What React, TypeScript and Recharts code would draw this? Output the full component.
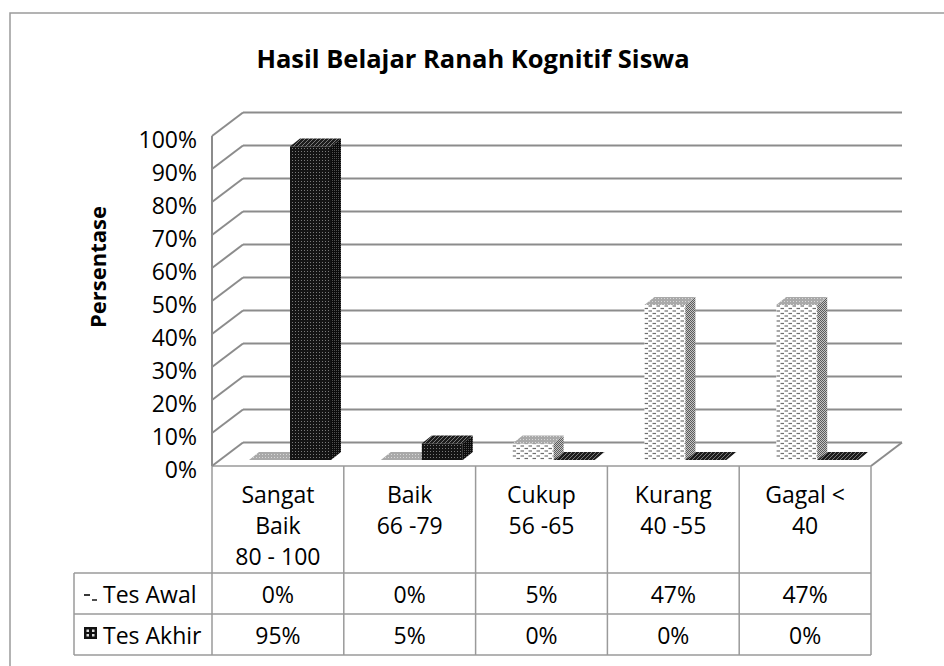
import React from "react";
import { BarChart, Bar, XAxis, YAxis, CartesianGrid } from "recharts";

// categories (table header lines) and the two series, in percent
const categoryLines = [
    ["Sangat", "Baik", "80 - 100"],
    ["Baik", "66 -79"],
    ["Cukup", "56 -65"],
    ["Kurang", "40 -55"],
    ["Gagal <", "40"],
];
const tesAwal = [0, 0, 5, 47, 47];
const tesAkhir = [95, 5, 0, 0, 0];
const yTicks = [0, 10, 20, 30, 40, 50, 60, 70, 80, 90, 100];
const seriesNames = ["Tes Awal", "Tes Akhir"];

const W = 944;
const H = 666;
const FONT = "'Open Sans', 'Noto Sans', sans-serif";
const FS = 23;

// bar plane = recharts plot area; walls are offset from it to fake the 3D box
const PLOT = { left: 224, top: 130, width: 659, height: 330 };
const FRONT = { dx: -12, dy: 6 };
const BACK = { dx: 19, dy: -17.5 };
const DEPTH = { dx: 10, dy: -8 };
const Y_AXIS_W = 40;

const GRID = "#8c8c8c";
const LINE = "#9a9a9a";

const data = categoryLines.map((lines, i) => ({
    name: lines.join(" "),
    awal: tesAwal[i],
    akhir: tesAkhir[i],
}));

function Box3D({ x, y, width, height, front, side, top }: any) {
    const h = Math.max(0, height || 0);
    const d = DEPTH;
    return (
        <g>
            {h > 0 && <rect x={x} y={y} width={width} height={h} fill={front} />}
            {h > 0 && (
                <polygon
                    points={`${x + width},${y} ${x + width + d.dx},${y + d.dy} ${x + width + d.dx},${y + h + d.dy} ${x + width},${y + h}`}
                    fill={side}
                />
            )}
            <polygon
                points={`${x},${y} ${x + d.dx},${y + d.dy} ${x + width + d.dx},${y + d.dy} ${x + width},${y}`}
                fill={top}
            />
        </g>
    );
}

const renderGridLine = (props: any) => {
    const { x1, x2, y1, index } = props;
    return (
        <g key={`grid-${index}-${y1}`}>
            <line
                x1={x1 + FRONT.dx}
                y1={y1 + FRONT.dy}
                x2={x1 + BACK.dx}
                y2={y1 + BACK.dy}
                stroke={GRID}
                strokeWidth={2}
            />
            <line
                x1={x1 + BACK.dx}
                y1={y1 + BACK.dy}
                x2={x2 + BACK.dx}
                y2={y1 + BACK.dy}
                stroke={GRID}
                strokeWidth={2}
            />
        </g>
    );
};

const renderTick = ({ y, payload }: any) => (
    <text
        x={197}
        y={y + FRONT.dy + 2.5}
        textAnchor="end"
        dominantBaseline="central"
        fontFamily={FONT}
        fontSize={FS}
        fill="#000"
    >
        {`${payload.value}%`}
    </text>
);

function Background() {
    const fx0 = PLOT.left + FRONT.dx;
    const fx1 = PLOT.left + PLOT.width + FRONT.dx;
    const fBase = PLOT.top + PLOT.height + FRONT.dy;
    const fTop = PLOT.top + FRONT.dy;
    const bBase = PLOT.top + PLOT.height + BACK.dy;
    const bx1 = PLOT.left + PLOT.width + BACK.dx;
    const colW = PLOT.width / categoryLines.length;
    const rowTop = 573;
    const rowH = 41;
    const tableBottom = rowTop + rowH * 2;
    const headX = 74;
    const values = [tesAwal, tesAkhir];

    return (
        <svg width={W} height={H} style={{ position: "absolute", left: 0, top: 0 }}>
            <defs>
                <pattern id="awalFront" width="8" height="5" patternUnits="userSpaceOnUse">
                    <rect width="8" height="5" fill="#fff" />
                    <line x1="0.5" y1="1" x2="4" y2="1" stroke="#6e6e6e" strokeWidth="1.2" />
                    <line x1="4.5" y1="3.5" x2="8" y2="3.5" stroke="#6e6e6e" strokeWidth="1.2" />
                </pattern>
                <pattern id="awalSide" width="2" height="2" patternUnits="userSpaceOnUse">
                    <rect width="2" height="2" fill="#c4c4c4" />
                    <rect width="1" height="1" fill="#5c5c5c" />
                    <rect x="1" y="1" width="1" height="1" fill="#5c5c5c" />
                </pattern>
                <pattern id="awalTop" width="3" height="3" patternUnits="userSpaceOnUse">
                    <rect width="3" height="3" fill="#a9a9a9" />
                    <rect x="1" y="1" width="1" height="1" fill="#d8d8d8" />
                </pattern>
                <pattern id="akhirFront" width="3" height="3" patternUnits="userSpaceOnUse">
                    <rect width="3" height="3" fill="#141414" />
                    <rect x="1" y="1" width="1" height="1" fill="#7a7a7a" />
                </pattern>
                <pattern id="akhirSide" width="2" height="2" patternUnits="userSpaceOnUse">
                    <rect width="2" height="2" fill="#0c0c0c" />
                    <rect width="1" height="1" fill="#505050" />
                </pattern>
                <pattern id="akhirTop" width="4" height="4" patternUnits="userSpaceOnUse">
                    <rect width="4" height="4" fill="#1c1c1c" />
                    <line x1="0" y1="4" x2="4" y2="0" stroke="#7a7a7a" strokeWidth="1" />
                </pattern>
            </defs>

            <rect x={10} y={13} width={W + 20} height={H + 20} fill="#fff" stroke={LINE} strokeWidth={1.5} />

            <text
                x={473}
                y={58}
                textAnchor="middle"
                dominantBaseline="central"
                fontFamily={FONT}
                fontWeight="bold"
                fontSize={25.5}
            >
                Hasil Belajar Ranah Kognitif Siswa
            </text>

            <text
                transform={`translate(97, 267) rotate(-90)`}
                textAnchor="middle"
                dominantBaseline="central"
                fontFamily={FONT}
                fontWeight="bold"
                fontSize={22}
            >
                Persentase
            </text>

            {/* left wall front edge and floor */}
            <line x1={fx0} y1={fTop} x2={fx0} y2={fBase} stroke={GRID} strokeWidth={2} />
            <line x1={fx1} y1={fBase} x2={bx1} y2={bBase} stroke={GRID} strokeWidth={2} />

            {/* data table */}
            <line x1={fx0} y1={fBase} x2={fx1} y2={fBase} stroke={LINE} strokeWidth={1.5} />
            {categoryLines.map((_, i) => (
                <line
                    key={`v-${i}`}
                    x1={fx0 + i * colW}
                    y1={fBase}
                    x2={fx0 + i * colW}
                    y2={tableBottom}
                    stroke={LINE}
                    strokeWidth={1.5}
                />
            ))}
            <line x1={fx1} y1={fBase} x2={fx1} y2={tableBottom} stroke={LINE} strokeWidth={1.5} />
            <line x1={headX} y1={rowTop} x2={headX} y2={tableBottom} stroke={LINE} strokeWidth={1.5} />
            {[0, 1, 2].map((r) => (
                <line
                    key={`h-${r}`}
                    x1={headX}
                    y1={rowTop + r * rowH}
                    x2={fx1}
                    y2={rowTop + r * rowH}
                    stroke={LINE}
                    strokeWidth={1.5}
                />
            ))}

            {categoryLines.map((lines, i) =>
                lines.map((t, j) => (
                    <text
                        key={`c-${i}-${j}`}
                        x={fx0 + (i + 0.5) * colW}
                        y={494 + j * 31}
                        textAnchor="middle"
                        dominantBaseline="central"
                        fontFamily={FONT}
                        fontSize={FS}
                    >
                        {t}
                    </text>
                ))
            )}

            {/* legend keys */}
            <line x1={84} y1={595} x2={90} y2={595} stroke="#222" strokeWidth={1.8} />
            <line x1={92} y1={600} x2={97} y2={600} stroke="#222" strokeWidth={1.6} />
            <rect x={84} y={627} width={13} height={12} fill="#111" />
            <rect x={86.5} y={629.5} width={2.5} height={2.5} fill="#ddd" />
            <rect x={92} y={629.5} width={2.5} height={2.5} fill="#ddd" />
            <rect x={86.5} y={634} width={2.5} height={2.5} fill="#ddd" />
            <rect x={92} y={634} width={2.5} height={2.5} fill="#ddd" />

            {seriesNames.map((s, r) => (
                <g key={s}>
                    <text
                        x={103}
                        y={rowTop + (r + 0.5) * rowH}
                        dominantBaseline="central"
                        fontFamily={FONT}
                        fontSize={FS}
                    >
                        {s}
                    </text>
                    {values[r].map((v, i) => (
                        <text
                            key={`v-${r}-${i}`}
                            x={fx0 + (i + 0.5) * colW}
                            y={rowTop + (r + 0.5) * rowH}
                            textAnchor="middle"
                            dominantBaseline="central"
                            fontFamily={FONT}
                            fontSize={FS}
                        >
                            {`${v}%`}
                        </text>
                    ))}
                </g>
            ))}
        </svg>
    );
}

export default function App() {
    return (
        <div style={{ position: "absolute", left: 0, top: 0, width: W, height: H, background: "#fff" }}>
            <Background />
            <div style={{ position: "absolute", left: 0, top: 0 }}>
                <BarChart
                    width={W}
                    height={H}
                    data={data}
                    margin={{
                        top: PLOT.top,
                        left: PLOT.left - Y_AXIS_W,
                        right: W - PLOT.left - PLOT.width,
                        bottom: H - PLOT.top - PLOT.height,
                    }}
                    barGap={0}
                    barSize={41}
                >
                    <CartesianGrid vertical={false} horizontal={renderGridLine} />
                    <XAxis dataKey="name" hide />
                    <YAxis
                        domain={[0, 100]}
                        ticks={yTicks}
                        width={Y_AXIS_W}
                        axisLine={false}
                        tickLine={false}
                        tick={renderTick}
                        interval={0}
                    />
                    <Bar
                        dataKey="awal"
                        name={seriesNames[0]}
                        isAnimationActive={false}
                        shape={(p: any) => (
                            <Box3D {...p} front="url(#awalFront)" side="url(#awalSide)" top="url(#awalTop)" />
                        )}
                    />
                    <Bar
                        dataKey="akhir"
                        name={seriesNames[1]}
                        isAnimationActive={false}
                        shape={(p: any) => (
                            <Box3D {...p} front="url(#akhirFront)" side="url(#akhirSide)" top="url(#akhirTop)" />
                        )}
                    />
                </BarChart>
            </div>
        </div>
    );
}
